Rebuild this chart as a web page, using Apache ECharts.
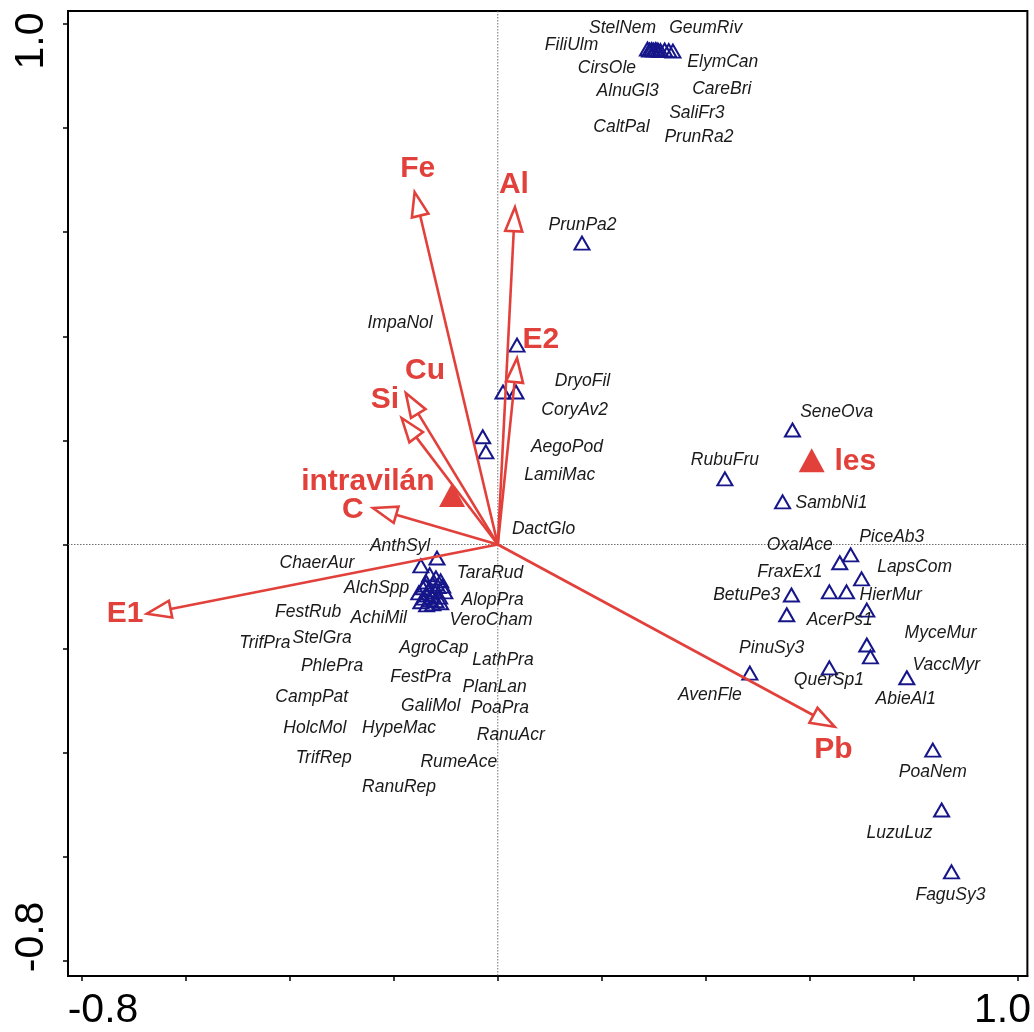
<!DOCTYPE html>
<html>
<head>
<meta charset="utf-8">
<script src="https://cdn.jsdelivr.net/npm/echarts@6/dist/echarts.min.js"></script>
<style>
  html, body { margin: 0; padding: 0; background: #fff; }
  #chart { width: 1034px; height: 1032px; }
</style>
</head>
<body>
<div id="chart"></div>
<script>
// Species scores on the first two ordination axes
const speciesNames = [
  'StelNem', 'GeumRiv', 'FiliUlm', 'ElymCan', 'CirsOle', 'AlnuGl3', 'CareBri', 'SaliFr3', 'CaltPal', 'PrunRa2',
  'PrunPa2', 'DryoFil', 'CoryAv2', 'ImpaNol', 'AegoPod', 'LamiMac',
  'SeneOva', 'RubuFru', 'SambNi1', 'PiceAb3', 'OxalAce', 'LapsCom', 'FraxEx1', 'HierMur', 'BetuPe3', 'AcerPs1',
  'PinuSy3', 'MyceMur', 'VaccMyr', 'QuerSp1', 'AvenFle', 'AbieAl1', 'PoaNem', 'LuzuLuz', 'FaguSy3',
  'AnthSyl', 'ChaerAur', 'AlchSpp', 'TaraRud', 'FestRub', 'AchiMil', 'AlopPra', 'VeroCham', 'TrifPra', 'StelGra',
  'AgroCap', 'LathPra', 'PhlePra', 'FestPra', 'PlanLan', 'CampPat', 'GaliMol', 'PoaPra', 'HolcMol', 'HypeMac',
  'RanuAcr', 'TrifRep', 'RumeAce', 'RanuRep', 'DactGlo'
];
const speciesAxis1 = [
  0.288, 0.337, 0.292, 0.329, 0.296, 0.300, 0.321, 0.313, 0.304, 0.308,
  0.162, 0.037, 0.035, 0.010, -0.029, -0.023,
  0.567, 0.437, 0.548, 0.679, 0.658, 0.700, 0.638, 0.671, 0.565, 0.710,
  0.556, 0.710, 0.717, 0.638, 0.485, 0.787, 0.837, 0.854, 0.873,
  -0.117, -0.148, -0.131, -0.119, -0.110, -0.138, -0.125, -0.115, -0.144, -0.133,
  -0.102, -0.121, -0.152, -0.137, -0.127, -0.112, -0.142, -0.131, -0.119, -0.148,
  -0.125, -0.137, -0.110, -0.140, -0.106
];
const speciesAxis2 = [
  0.952, 0.948, 0.950, 0.949, 0.951, 0.950, 0.950, 0.949, 0.951, 0.950,
  0.579, 0.383, 0.293, 0.293, 0.207, 0.178,
  0.220, 0.126, 0.082, -0.020, -0.035, -0.066, -0.091, -0.091, -0.097, -0.126,
  -0.135, -0.193, -0.216, -0.237, -0.247, -0.256, -0.395, -0.510, -0.629,
  -0.026, -0.041, -0.058, -0.064, -0.070, -0.072, -0.076, -0.081, -0.083, -0.087,
  -0.091, -0.091, -0.093, -0.097, -0.101, -0.101, -0.103, -0.106, -0.108, -0.110,
  -0.114, -0.116, -0.112, -0.078, -0.080
];
// Where each species name is printed (axis units)
const speciesLabelAxis1 = [
  0.240, 0.400, 0.142, 0.433, 0.210, 0.250, 0.431, 0.383, 0.238, 0.387,
  0.163, 0.163, 0.148, -0.188, 0.133, 0.119,
  0.652, 0.437, 0.642, 0.758, 0.581, 0.802, 0.562, 0.756, 0.479, 0.658,
  0.527, 0.852, 0.863, 0.637, 0.408, 0.785, 0.837, 0.773, 0.871,
  -0.188, -0.348, -0.233, -0.015, -0.365, -0.229, -0.010, -0.013, -0.448, -0.338,
  -0.123, 0.010, -0.319, -0.148, -0.006, -0.358, -0.129, 0.004, -0.352, -0.190,
  0.025, -0.335, -0.075, -0.190, 0.088
];
const speciesLabelAxis2 = [
  0.992, 0.992, 0.960, 0.927, 0.915, 0.871, 0.875, 0.829, 0.802, 0.783,
  0.614, 0.314, 0.259, 0.425, 0.187, 0.134,
  0.255, 0.163, 0.080, 0.015, -0.001, -0.043, -0.053, -0.097, -0.097, -0.145,
  -0.199, -0.170, -0.231, -0.260, -0.289, -0.298, -0.437, -0.554, -0.673,
  -0.003, -0.035, -0.083, -0.055, -0.129, -0.141, -0.106, -0.145, -0.189, -0.180,
  -0.200, -0.222, -0.233, -0.254, -0.274, -0.293, -0.310, -0.314, -0.352, -0.352,
  -0.366, -0.410, -0.418, -0.467, 0.030
];

// Quantitative environmental variables (arrow tips)
const envNames = ['Fe', 'Al', 'E2', 'Cu', 'Si', 'C', 'E1', 'Pb'];
const envAxis1 = [-0.160, 0.033, 0.037, -0.177, -0.185, -0.240, -0.675, 0.648];
const envAxis2 = [0.677, 0.648, 0.358, 0.291, 0.243, 0.070, -0.133, -0.350];
const envLabelAxis1 = [-0.154, 0.031, 0.083, -0.140, -0.217, -0.279, -0.717, 0.646];
const envLabelAxis2 = [0.721, 0.691, 0.393, 0.334, 0.278, 0.066, -0.133, -0.394];

// Nominal variables (centroids)
const nominalNames = ['intravilán', 'les'];
const nominalAxis1 = [-0.088, 0.604];
const nominalAxis2 = [0.095, 0.162];
const nominalLabelAxis1 = [-0.250, 0.688];
const nominalLabelAxis2 = [0.120, 0.159];

// Axis ticks and the tick values that carry a label
const axisTicks = [-0.8, -0.6, -0.4, -0.2, 0, 0.2, 0.4, 0.6, 0.8, 1.0];
const axisTickLabels = [-0.8, 1.0];

const RED = '#e2403b';
const NAVY = '#16168a';
const FONT = '"Liberation Sans", Arial, Helvetica, sans-serif';

const speciesData = speciesNames.map((n, i) => [speciesAxis1[i], speciesAxis2[i], n]);
const speciesLabelData = speciesNames.map((n, i) => [speciesLabelAxis1[i], speciesLabelAxis2[i], n]);
const envData = envNames.map((n, i) => [envAxis1[i], envAxis2[i], n]);
const redLabelData = envNames.map((n, i) => [envLabelAxis1[i], envLabelAxis2[i], n])
  .concat(nominalNames.map((n, i) => [nominalLabelAxis1[i], nominalLabelAxis2[i], n]));
const nominalData = nominalNames.map((n, i) => [nominalAxis1[i], nominalAxis2[i], n]);

const labelFont = { fontSize: 41, fontFamily: FONT, color: '#000' };

const chart = echarts.init(document.getElementById('chart'), null, { renderer: 'canvas' });

chart.setOption({
  animation: false,
  backgroundColor: '#fff',
  grid: {
    left: 68, right: 6, top: 11, bottom: 56,
    show: true, borderColor: '#000', borderWidth: 2, backgroundColor: 'transparent'
  },
  xAxis: {
    type: 'value', min: -0.827, max: 1.019,
    splitLine: { show: false },
    axisLine: { show: true, onZero: false, lineStyle: { color: '#000', width: 2 } },
    axisTick: { show: true, inside: false, length: 5, customValues: axisTicks, lineStyle: { color: '#000', width: 1.5 } },
    axisLabel: {
      customValues: axisTickLabels, margin: 14,
      formatter: v => (v < 0 ? '{lo|' : '{hi|') + v.toFixed(1) + '}',
      rich: {
        lo: Object.assign({ padding: [0, 0, 0, 42] }, labelFont),
        hi: Object.assign({ padding: [0, 30, 0, 0] }, labelFont)
      }
    }
  },
  yAxis: {
    type: 'value', min: -0.829, max: 1.025,
    splitLine: { show: false },
    axisLine: { show: true, onZero: false, lineStyle: { color: '#000', width: 2 } },
    axisTick: { show: true, inside: false, length: 5, customValues: axisTicks, lineStyle: { color: '#000', width: 1.5 } },
    axisLabel: {
      customValues: axisTickLabels, margin: 16, rotate: 90,
      formatter: v => (v < 0 ? '{lo|' : '{hi|') + v.toFixed(1) + '}',
      rich: {
        lo: Object.assign({ padding: [0, 0, 0, 48] }, labelFont),
        hi: Object.assign({ padding: [0, 34, 0, 0] }, labelFont)
      }
    }
  },
  series: [
    {
      // dotted lines through the origin
      type: 'custom', silent: true, z: 1,
      data: [[0, 0]],
      renderItem: (params, api) => {
        const cs = params.coordSys;
        const o = api.coord([api.value(0), api.value(1)]);
        const st = { stroke: '#6f6f6f', lineWidth: 1, lineDash: [1.5, 1.5] };
        return {
          type: 'group', children: [
            { type: 'line', shape: { x1: o[0], y1: cs.y, x2: o[0], y2: cs.y + cs.height }, style: st },
            { type: 'line', shape: { x1: cs.x, y1: o[1], x2: cs.x + cs.width, y2: o[1] }, style: st }
          ]
        };
      }
    },
    {
      // species
      type: 'scatter', silent: true, z: 3,
      data: speciesData,
      symbol: 'triangle', symbolSize: [15, 13],
      itemStyle: { color: 'rgba(0,0,0,0)', borderColor: NAVY, borderWidth: 2, opacity: 1 }
    },
    {
      // environmental arrows
      type: 'custom', silent: true, z: 4,
      data: envData,
      renderItem: (params, api) => {
        const o = api.coord([0, 0]);
        const t = api.coord([api.value(0), api.value(1)]);
        const dx = t[0] - o[0], dy = t[1] - o[1];
        const len = Math.hypot(dx, dy);
        const ux = dx / len, uy = dy / len;
        const hl = 24, hw = 8.5;
        const bx = t[0] - ux * hl, by = t[1] - uy * hl;
        return {
          type: 'group', children: [
            { type: 'line', shape: { x1: o[0], y1: o[1], x2: bx, y2: by }, style: { stroke: RED, lineWidth: 2.6 } },
            {
              type: 'polygon',
              shape: { points: [[t[0], t[1]], [bx - uy * hw, by + ux * hw], [bx + uy * hw, by - ux * hw]] },
              style: { fill: '#fff', stroke: RED, lineWidth: 2.6, lineJoin: 'miter' }
            }
          ]
        };
      }
    },
    {
      // centroids of nominal variables
      type: 'scatter', silent: true, z: 5,
      data: nominalData,
      symbol: 'triangle', symbolSize: [26, 24],
      itemStyle: { color: RED, opacity: 1 }
    },
    {
      // species names
      type: 'custom', silent: true, z: 6,
      data: speciesLabelData,
      renderItem: (params, api) => {
        const p = api.coord([api.value(0), api.value(1)]);
        return {
          type: 'text', x: p[0], y: p[1],
          style: {
            text: speciesNames[params.dataIndex], fill: '#1a1a1a',
            font: 'italic 17.5px ' + FONT, align: 'center', verticalAlign: 'middle'
          }
        };
      }
    },
    {
      // variable names
      type: 'custom', silent: true, z: 7,
      data: redLabelData,
      renderItem: (params, api) => {
        const p = api.coord([api.value(0), api.value(1)]);
        return {
          type: 'text', x: p[0], y: p[1],
          style: {
            text: redLabelData[params.dataIndex][2], fill: RED,
            font: 'bold 30px ' + FONT, align: 'center', verticalAlign: 'middle'
          }
        };
      }
    }
  ]
});
</script>
</body>
</html>
